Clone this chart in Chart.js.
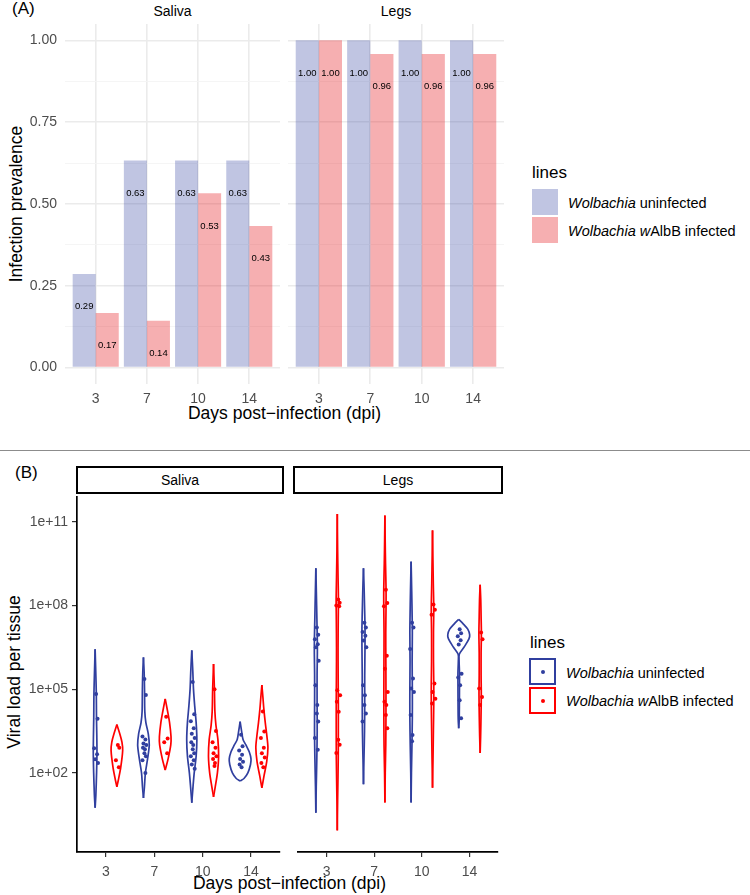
<!DOCTYPE html>
<html><head><meta charset="utf-8">
<script src="https://cdn.jsdelivr.net/npm/chart.js@4.4.1/dist/chart.umd.min.js"></script>
<style>
html,body{margin:0;padding:0;background:#fff;}
body{width:750px;height:895px;position:relative;overflow:hidden;font-family:"Liberation Sans",Arial,Helvetica,sans-serif;color:#000;}
canvas{position:absolute;}
.t{position:absolute;white-space:nowrap;line-height:1;}
.c{transform:translate(-50%,-50%);}
.l{transform:translate(0,-50%);}
.r{transform:translate(-50%,-50%) rotate(-90deg);}
.key{position:absolute;box-sizing:border-box;}
.dot{position:absolute;width:4px;height:4px;border-radius:50%;left:50%;top:50%;transform:translate(-50%,-50%);}
</style></head><body>

<!-- Panel A texts -->
<div class="t l" style="left:12px;top:8px;font-size:17px;">(A)</div>
<div class="t c" style="left:172.5px;top:11px;font-size:14px;">Saliva</div>
<div class="t c" style="left:396px;top:11px;font-size:14px;">Legs</div>
<div class="t r" style="left:17px;top:204px;font-size:17.5px;">Infection prevalence</div>
<div class="t c" style="left:284.5px;top:414px;font-size:17.5px;">Days post&#8722;infection (dpi)</div>
<div class="t l" style="left:532px;top:172px;font-size:17px;">lines</div>
<div class="key" style="left:532px;top:189px;width:26px;height:26px;background:rgba(48,63,159,0.3);"></div>
<div class="key" style="left:532px;top:217px;width:26px;height:26px;background:rgba(229,25,32,0.35);"></div>
<div class="t l" style="left:568px;top:203px;font-size:14.5px;"><i>Wolbachia</i> uninfected</div>
<div class="t l" style="left:568px;top:231px;font-size:14.5px;"><i>Wolbachia w</i>AlbB infected</div>

<div style="position:absolute;left:0;top:450px;width:750px;height:1px;background:#8c8c8c;"></div>

<!-- Panel B texts -->
<div class="t l" style="left:15px;top:472px;font-size:17px;">(B)</div>
<div class="key" style="left:76px;top:466px;width:208px;height:28px;border:2px solid #000;"></div>
<div class="key" style="left:293px;top:466px;width:210px;height:28px;border:2px solid #000;"></div>
<div class="t c" style="left:180px;top:480px;font-size:14px;">Saliva</div>
<div class="t c" style="left:398px;top:480px;font-size:14px;">Legs</div>
<div class="t r" style="left:15px;top:672px;font-size:17.5px;">Viral load per tissue</div>
<div class="t c" style="left:289.5px;top:884px;font-size:17.5px;">Days post&#8722;infection (dpi)</div>
<div class="t l" style="left:530px;top:642px;font-size:17px;">lines</div>
<div class="key" style="left:529px;top:658px;width:27px;height:27px;border:2px solid #303f9f;"><div class="dot" style="background:#303f9f;"></div></div>
<div class="key" style="left:529px;top:687px;width:27px;height:27px;border:2px solid #ff0000;"><div class="dot" style="background:#ff0000;"></div></div>
<div class="t l" style="left:566px;top:673px;font-size:14.5px;"><i>Wolbachia</i> uninfected</div>
<div class="t l" style="left:566px;top:701px;font-size:14.5px;"><i>Wolbachia w</i>AlbB infected</div>

<canvas id="aSaliva" width="280" height="390" style="left:0px;top:24px;width:280px;height:390px;"></canvas>
<canvas id="aLegs" width="216" height="390" style="left:288px;top:24px;width:216px;height:390px;"></canvas>
<canvas id="bSaliva" width="284" height="396" style="left:0px;top:493px;width:284px;height:396px;"></canvas>
<canvas id="bLegs" width="208" height="396" style="left:294px;top:493px;width:208px;height:396px;"></canvas>

<script>
// ---------------- DATA ----------------
const days = ['3', '7', '10', '14'];

// (A) infection prevalence
const prevTicks = [0, 0.25, 0.5, 0.75, 1];
const salivaUninfected = [0.286, 0.633, 0.633, 0.633];
const salivaWalbB      = [0.167, 0.143, 0.533, 0.433];
const legsUninfected   = [1.00, 1.00, 1.00, 1.00];
const legsWalbB        = [1.00, 0.958, 0.958, 0.958];

// (B) viral load per tissue, log10 scale
const loadTicks = [2, 5, 8, 11];

// individual samples (log10 viral load), per day
const salivaUninfLoad = [
  [4.83, 3.94, 2.88, 2.67, 2.49, 2.35],
  [5.36, 4.79, 3.3, 3.2, 3.05, 3.0, 2.9, 2.85, 2.7, 2.6, 2.45, 2.0],
  [5.26, 4.1, 3.85, 3.6, 3.4, 3.25, 3.1, 3.0, 2.85, 2.7, 2.6, 2.45, 2.3, 2.15],
  [3.37, 2.95, 2.8, 2.65, 2.5, 2.4, 2.3, 2.2]
];
const salivaWalbLoad = [
  [3.0, 2.9, 2.45, 2.2],
  [4.01, 3.23, 3.1, 2.7],
  [5.0, 3.5, 3.1, 2.9, 2.7, 2.6, 2.5, 2.35, 2.25],
  [4.2, 3.48, 3.25, 2.9, 2.7, 2.55, 2.35, 2.2]
];
const legsUninfLoad = [
  [7.21, 6.95, 6.79, 6.61, 6.5, 6.02, 5.14, 4.43, 4.13, 3.84, 3.25, 2.83],
  [7.38, 7.21, 7.05, 6.91, 6.74, 6.5, 5.14, 4.78, 4.43, 4.13, 3.84],
  [7.38, 7.21, 6.44, 5.38, 5.02, 4.9, 4.07, 3.36, 3.13],
  [7.15, 7.0, 6.9, 6.75, 6.6, 5.55, 5.42, 5.14, 4.6, 3.96]
];
const legsWalbLoad = [
  [8.21, 8.1, 8.0, 7.97, 4.96, 4.78, 4.55, 4.19, 3.19, 3.01, 2.71],
  [8.56, 8.09, 7.97, 6.2, 5.73, 4.9, 4.55, 4.43, 4.07, 3.6],
  [8.03, 7.85, 7.67, 5.2, 4.9, 4.66, 4.49],
  [7.03, 6.79, 5.02, 4.72, 4.43]
];

// violin density profiles: [log10 load, density half-width]
const salivaUninfViolin = [
  [[0.75,0],[1.2,0.015],[2.0,0.03],[2.7,0.038],[3.3,0.035],[4.0,0.028],[4.8,0.025],[5.5,0.015],[6.43,0]],
  [[1.1,0],[1.5,0.02],[2.0,0.04],[2.5,0.085],[3.0,0.12],[3.4,0.1],[3.8,0.05],[4.2,0.028],[5.0,0.022],[5.6,0.014],[6.14,0]],
  [[0.93,0],[1.5,0.025],[2.0,0.05],[2.6,0.09],[3.2,0.105],[3.8,0.09],[4.4,0.06],[5.0,0.035],[5.6,0.022],[6.39,0]],
  [[1.71,0],[1.8,0.08],[2.0,0.16],[2.3,0.215],[2.5,0.225],[2.75,0.19],[3.0,0.12],[3.2,0.06],[3.5,0.03],[3.84,0]]
];
const salivaWalbViolin = [
  [[1.5,0],[1.7,0.025],[2.2,0.08],[2.8,0.12],[3.1,0.105],[3.4,0.06],[3.73,0]],
  [[2.1,0],[2.5,0.06],[3.0,0.115],[3.3,0.12],[3.8,0.09],[4.2,0.05],[4.65,0]],
  [[1.14,0],[1.5,0.035],[2.0,0.08],[2.6,0.105],[3.2,0.09],[3.7,0.05],[4.2,0.028],[5.0,0.018],[5.9,0]],
  [[1.46,0],[1.9,0.045],[2.4,0.1],[2.9,0.125],[3.3,0.105],[3.8,0.07],[4.3,0.04],[4.7,0.022],[5.15,0]]
];
const legsUninfViolin = [
  [[0.57,0],[1.5,0.008],[2.5,0.02],[3.5,0.028],[4.5,0.026],[5.5,0.026],[6.5,0.032],[7.5,0.022],[8.5,0.01],[9.33,0]],
  [[1.59,0],[2.5,0.01],[3.5,0.022],[4.5,0.026],[5.5,0.026],[6.5,0.032],[7.2,0.032],[8.0,0.022],[8.8,0.01],[9.33,0]],
  [[0.94,0],[2.0,0.007],[3.0,0.018],[4.0,0.026],[5.0,0.026],[6.0,0.022],[7.0,0.026],[7.6,0.022],[8.5,0.013],[9.57,0]],
  [[3.6,0],[3.9,0.01],[4.5,0.014],[5.2,0.016],[5.6,0.016],[6.0,0.008],[6.25,0.012],[6.5,0.11],[6.8,0.215],[6.95,0.23],[7.15,0.19],[7.35,0.09],[7.5,0]]
];
const legsWalbViolin = [
  [[-0.06,0],[1.0,0.007],[2.5,0.02],[3.5,0.022],[4.5,0.022],[5.5,0.018],[6.5,0.016],[7.5,0.02],[8.2,0.024],[9.0,0.016],[10.0,0.007],[11.28,0]],
  [[0.94,0],[2.0,0.007],[3.0,0.018],[4.0,0.022],[5.0,0.022],[6.0,0.02],[7.0,0.018],[8.0,0.024],[8.6,0.024],[9.5,0.013],[10.3,0.006],[11.22,0]],
  [[1.47,0],[2.5,0.01],[3.5,0.018],[4.5,0.026],[5.2,0.026],[6.0,0.02],[7.0,0.02],[7.9,0.026],[8.8,0.016],[9.8,0.007],[10.69,0]],
  [[2.71,0],[3.3,0.01],[4.0,0.018],[4.8,0.024],[5.5,0.02],[6.3,0.02],[7.0,0.026],[7.6,0.02],[8.2,0.013],[8.74,0]]
];

// ---------------- STYLE ----------------
const FONT = '"Liberation Sans", Arial, Helvetica, sans-serif';
Chart.defaults.font.family = FONT;
const UNINF_FILL = 'rgba(48,63,159,0.3)';
const WALB_FILL = 'rgba(229,25,32,0.35)';
const UNINF_LINE = '#303f9f';
const WALB_LINE = '#ff0000';
const DODGE = 0.225;
const JITTER = [0.02, 0.05, -0.02, 0.04, 0.0, 0.06, -0.01, 0.03];
const catIdx = days.map((d, i) => i + 1);

const gridVals = [];
prevTicks.forEach((v, i) => {
  gridVals.push(v);
  if (i < prevTicks.length - 1) gridVals.push((v + prevTicks[i + 1]) / 2);
});
const isMajor = v => prevTicks.some(t => Math.abs(t - v) < 1e-9);

const barLabels = {
  id: 'barLabels',
  afterDatasetsDraw(chart) {
    const ctx = chart.ctx, y = chart.scales.y;
    ctx.save();
    ctx.font = '9.5px ' + FONT;
    ctx.fillStyle = '#000';
    ctx.textAlign = 'center';
    ctx.textBaseline = 'middle';
    chart.data.datasets.forEach((ds, di) => {
      chart.getDatasetMeta(di).data.forEach((el, i) => {
        const v = ds.data[i].y;
        ctx.fillText(v.toFixed(2), el.x, y.getPixelForValue(v - 0.1));
      });
    });
    ctx.restore();
  }
};

function makeBarChart(id, uninf, walb, showY) {
  const yW = showY ? 65 : 0;
  return new Chart(document.getElementById(id), {
    type: 'bar',
    data: { datasets: [
      { data: catIdx.map((x, i) => ({ x, y: uninf[i] })), backgroundColor: UNINF_FILL },
      { data: catIdx.map((x, i) => ({ x, y: walb[i] })), backgroundColor: WALB_FILL }
    ]},
    options: {
      responsive: false, animation: false, devicePixelRatio: 1,
      layout: { padding: 0 },
      datasets: { bar: { categoryPercentage: 0.9, barPercentage: 1, borderWidth: 0 } },
      plugins: { legend: { display: false }, tooltip: { enabled: false } },
      scales: {
        x: {
          type: 'linear', min: 0.4, max: 4.6, offset: false,
          afterBuildTicks: s => { s.ticks = catIdx.map(v => ({ value: v })); },
          afterFit: s => { s.height = 30; s.paddingLeft = 0; s.paddingRight = 0; },
          ticks: { callback: v => days[v - 1], color: '#4d4d4d', font: { size: 14 }, padding: 7, maxRotation: 0, autoSkip: false },
          grid: { color: '#ebebeb', lineWidth: 1.6, drawTicks: false, offset: false },
          border: { display: false }
        },
        y: {
          type: 'linear', min: -0.05, max: 1.05,
          afterBuildTicks: s => { s.ticks = gridVals.map(v => ({ value: v })); },
          afterFit: s => { s.width = yW; s.paddingTop = 0; s.paddingBottom = 0; },
          ticks: { display: showY, callback: v => isMajor(v) ? v.toFixed(2) : '', color: '#4d4d4d', font: { size: 14 }, padding: 8 },
          grid: {
            color: c => isMajor(c.tick.value) ? '#ebebeb' : '#f4f4f4',
            lineWidth: c => isMajor(c.tick.value) ? 1.6 : 0.9,
            drawTicks: false
          },
          border: { display: false }
        }
      }
    },
    plugins: [barLabels]
  });
}

function makeViolinChart(id, uViol, wViol, uPts, wPts, showY) {
  const datasets = [];
  [[uViol, uPts, UNINF_LINE, -DODGE], [wViol, wPts, WALB_LINE, DODGE]].forEach(([vs, ps, col, off]) => {
    catIdx.forEach((c, i) => {
      const cx = c + off;
      const prof = vs[i];
      // outline drawn as two sides so the smoothing never bulges at the tips
      [1, -1].forEach(side => {
        datasets.push({ type: 'line', data: prof.map(([ly, w]) => ({ x: cx + side * w, y: ly })),
          borderColor: col, borderWidth: 1.7, pointRadius: 0, fill: false, tension: 0.3, order: 2 });
      });
      datasets.push({ type: 'scatter', data: ps[i].map((ly, k) => ({ x: cx + JITTER[k % JITTER.length], y: ly })),
        backgroundColor: col, borderColor: col, borderWidth: 0, pointRadius: 2, order: 1 });
    });
  });
  return new Chart(document.getElementById(id), {
    type: 'scatter',
    data: { datasets },
    options: {
      responsive: false, animation: false, devicePixelRatio: 1,
      layout: { padding: 0 },
      plugins: { legend: { display: false }, tooltip: { enabled: false } },
      scales: {
        x: {
          type: 'linear', min: 0.4, max: 4.6,
          afterBuildTicks: s => { s.ticks = catIdx.map(v => ({ value: v })); },
          afterFit: s => { s.height = 37; s.paddingLeft = 0; s.paddingRight = 0; },
          ticks: { callback: v => days[v - 1], color: '#4d4d4d', font: { size: 14 }, padding: 7, maxRotation: 0, autoSkip: false },
          grid: { drawOnChartArea: false, drawTicks: true, tickLength: 5, color: '#333', lineWidth: 1.2 },
          border: { display: true, color: '#000', width: 1.7 }
        },
        y: {
          type: 'linear', display: showY, min: -0.835, max: 11.886,
          afterBuildTicks: s => { s.ticks = loadTicks.map(v => ({ value: v })); },
          afterFit: s => { s.width = showY ? 77 : 0; s.paddingTop = 0; s.paddingBottom = 0; },
          ticks: { callback: v => '1e+' + String(v).padStart(2, '0'), color: '#4d4d4d', font: { size: 14 }, padding: 4 },
          grid: { drawOnChartArea: false, drawTicks: true, tickLength: 5, color: '#333', lineWidth: 1.2 },
          border: { display: true, color: '#000', width: 1.7 }
        }
      }
    }
  });
}

makeBarChart('aSaliva', salivaUninfected, salivaWalbB, true);
makeBarChart('aLegs', legsUninfected, legsWalbB, false);
makeViolinChart('bSaliva', salivaUninfViolin, salivaWalbViolin, salivaUninfLoad, salivaWalbLoad, true);
makeViolinChart('bLegs', legsUninfViolin, legsWalbViolin, legsUninfLoad, legsWalbLoad, false);
</script>
</body></html>
